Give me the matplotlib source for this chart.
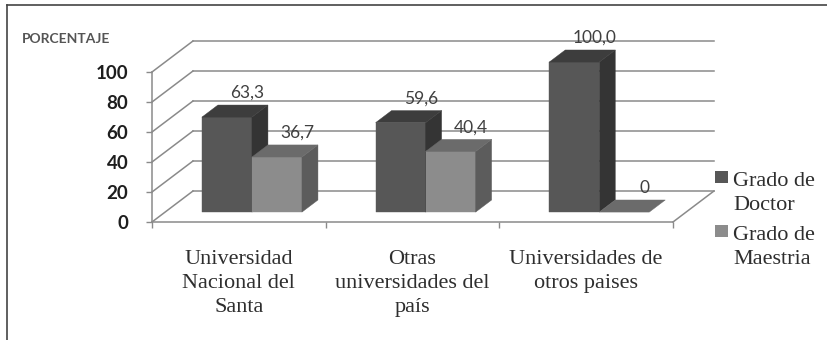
import matplotlib.pyplot as plt
from matplotlib.patches import Polygon, Rectangle
from matplotlib.lines import Line2D

# datos del grafico
categorias = ["Universidad\nNacional del\nSanta",
              "Otras\nuniversidades del\npaís",
              "Universidades de\notros paises"]
doctor = [63.3, 59.6, 100.0]
maestria = [36.7, 40.4, 0.0]
series = ["Grado de\nDoctor", "Grado de\nMaestria"]
yticks = [0, 20, 40, 60, 80, 100]

# colores (frente, tapa, lado) de cada serie
colores = [("#575757", "#3d3d3d", "#343434"),
           ("#8c8c8c", "#6b6b6b", "#5c5c5c")]

# profundidad de la caja 3D en unidades de datos
DX, DY = 0.236, 20.67
F0, F1 = 0.32, 0.71      # posicion de las barras dentro de la profundidad
ANCHO = 0.288            # ancho de cada barra
GRIS = "#8a8a8a"


def etiqueta(v):
    return "0" if v == 0 else f"{v:.1f}".replace(".", ",")


def barra3d(ax, x0, h, col):
    fx, fy = F0 * DX, F0 * DY
    bx, by = F1 * DX, F1 * DY
    x1 = x0 + ANCHO
    if h > 0:
        ax.add_patch(Rectangle((x0 + fx, fy), ANCHO, h, fc=col[0], ec=col[0],
                               lw=0.3, clip_on=False, zorder=3))
        ax.add_patch(Polygon([(x1 + fx, fy), (x1 + bx, by), (x1 + bx, h + by),
                              (x1 + fx, h + fy)], fc=col[2], ec=col[2],
                             lw=0.3, clip_on=False, zorder=3))
    ax.add_patch(Polygon([(x0 + fx, h + fy), (x1 + fx, h + fy),
                          (x1 + bx, h + by), (x0 + bx, h + by)],
                         fc=col[1], ec=col[1], lw=0.3, clip_on=False, zorder=3))
    ax.annotate(etiqueta(h), ((x0 + x1) / 2 + bx, h + by), xytext=(3, 5),
                textcoords="offset points", ha="center", va="baseline",
                fontsize=12.5, family="Lato", color="#404040", zorder=5,
                annotation_clip=False)


W, H = 828, 340
fig = plt.figure(figsize=(W / 100, H / 100), dpi=100)
ax = fig.add_axes([152 / W, (H - 222) / H, 521 / W, 150 / H])
n = len(categorias)
ax.set_xlim(0, n)
ax.set_ylim(0, 100)

# paredes: lineas de la cuadricula al fondo y en la pared izquierda
for v in yticks:
    ax.plot([0, DX], [v, v + DY], color=GRIS, lw=1.1, clip_on=False, zorder=1)
    ax.plot([DX, n + DX], [v + DY, v + DY], color=GRIS, lw=1.1,
            clip_on=False, zorder=1)
ax.plot([n, n + DX], [0, DY], color=GRIS, lw=1.1, clip_on=False, zorder=1)

# barras
for i in range(n):
    x0 = i + 0.5 - ANCHO
    barra3d(ax, x0, doctor[i], colores[0])
    barra3d(ax, x0 + ANCHO, maestria[i], colores[1])

# ejes
for s in ("top", "right"):
    ax.spines[s].set_visible(False)
for s in ("left", "bottom"):
    ax.spines[s].set_color(GRIS)
    ax.spines[s].set_linewidth(1.1)
ax.set_yticks(yticks)
ax.set_yticklabels([str(v) for v in yticks], fontsize=13.5, family="Lato",
                   fontweight="bold", color="#1e1e1e")
ax.tick_params(axis="y", direction="out", length=4, width=1, color=GRIS, pad=13)
ax.set_xticks(range(n + 1))
ax.set_xticklabels([])
ax.tick_params(axis="x", which="major", direction="out", length=4, width=1,
               color=GRIS)
ax.set_xticks([i + 0.5 for i in range(n)], minor=True)
ax.set_xticklabels(categorias, minor=True, fontsize=16, family="Liberation Serif",
                   color="#2e2e2e", linespacing=1.35)
ax.tick_params(axis="x", which="minor", length=0, pad=20)
ax.set_facecolor("none")

fig.text(22 / W, (H - 43) / H, "PORCENTAJE", fontsize=10, family="Lato",
         fontweight="bold", color="#555555", va="baseline")

# leyenda: el texto se alinea por la base de su ultima linea
for k, (nombre, col) in enumerate(zip(series, colores)):
    base = 183 + k * 54
    fig.add_artist(Rectangle((715 / W, (H - base) / H), 13 / W, 12 / H,
                             transform=fig.transFigure, fc=col[0], ec="none"))
    fig.text(733 / W, (H - base - 27) / H, nombre, fontsize=16,
             family="Liberation Serif", color="#2e2e2e", va="baseline",
             linespacing=1.35)

# marco
fig.add_artist(Line2D([7 / W, 1], [(H - 5) / H] * 2, transform=fig.transFigure,
                      color="#444444", lw=1.2))
fig.add_artist(Line2D([7 / W] * 2, [0, (H - 5) / H], transform=fig.transFigure,
                      color="#444444", lw=1.2))

fig.savefig("out.png", dpi=100, facecolor="white")
